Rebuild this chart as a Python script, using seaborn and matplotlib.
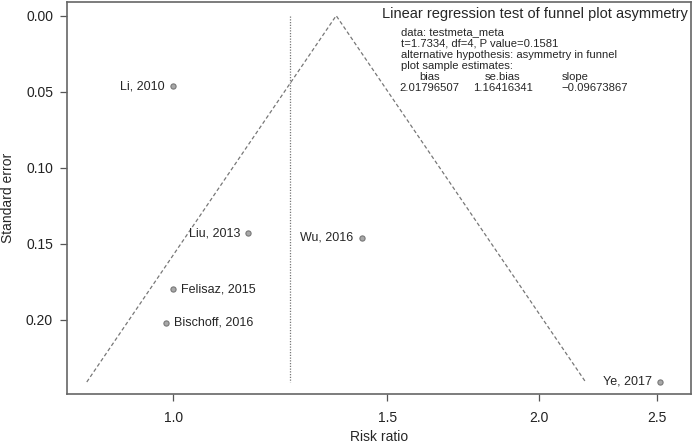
import numpy as np
import pandas as pd
import seaborn as sns
import matplotlib.pyplot as plt

# study data
studies = ["Li, 2010", "Liu, 2013", "Wu, 2016", "Felisaz, 2015", "Bischoff, 2016", "Ye, 2017"]
risk_ratio = [1.00, 1.153, 1.43, 1.00, 0.987, 2.515]
std_error = [0.0463, 0.143, 0.146, 0.180, 0.202, 0.241]
label_side = ["left", "left", "left", "right", "right", "left"]

fixed_rr = 1.362     # funnel apex
random_rr = 1.247    # dotted reference line
x_ticks = [1.0, 1.5, 2.0, 2.5]
y_ticks = [0.00, 0.05, 0.10, 0.15, 0.20]

test_title = "Linear regression test of funnel plot asymmetry"
test_lines = ["data: testmeta_meta",
              "t=1.7334, df=4, P value=0.1581",
              "alternative hypothesis: asymmetry in funnel",
              "plot sample estimates:"]
est_names = ["bias", "se.bias", "slope"]
est_values = ["2.01796507", "1.16416341", "\u22120.09673867"]

sns.set_style("white")
plt.rcParams['font.family'] = ['Liberation Sans', 'DejaVu Sans']

df = pd.DataFrame({"study": studies, "rr": risk_ratio, "se": std_error, "side": label_side})

fig = plt.figure(figsize=(6.99, 4.48), dpi=100)
ax = fig.add_axes([67 / 699, 1 - 394 / 448, 624 / 699, 392 / 448])

# funnel (pseudo 95% limits around fixed-effect estimate)
se_max = max(std_error)
funnel = pd.DataFrame({
    "rr": [np.exp(np.log(fixed_rr) - 1.96 * se_max), fixed_rr, np.exp(np.log(fixed_rr) + 1.96 * se_max)],
    "se": [se_max, 0.0, se_max],
})
ax.plot(funnel["rr"], funnel["se"], color="#777777", linestyle=(0, (3, 2)), linewidth=0.9)
ax.plot([random_rr, random_rr], [0.0, se_max], color="#777777", linestyle=(0, (1, 1.2)), linewidth=0.9)

sns.scatterplot(data=df, x="rr", y="se", ax=ax, color="#a8a8a8", edgecolor="#777777",
                linewidth=0.8, s=14, zorder=3, legend=False)

for _, row in df.iterrows():
    if row["side"] == "left":
        ax.annotate(row["study"], (row["rr"], row["se"]), xytext=(-6, 0), textcoords="offset points",
                    ha="right", va="center", fontsize=9)
    else:
        ax.annotate(row["study"], (row["rr"], row["se"]), xytext=(6, 0), textcoords="offset points",
                    ha="left", va="center", fontsize=9)

ax.set_xscale("log")
ax.set_xlim(0.818, 2.667)
ax.set_ylim(0.2489, -0.0090)
ax.set_xticks(x_ticks)
ax.set_xticklabels([f"{t:.1f}" for t in x_ticks])
ax.minorticks_off()
ax.set_yticks(y_ticks)
ax.set_yticklabels([f"{t:.2f}" for t in y_ticks])
ax.tick_params(bottom=True, left=True, direction="out", length=5, width=0.9, color="#555555",
               labelsize=10, pad=5, labelcolor="#222222")
ax.tick_params(axis="x", pad=7)
ax.set_xlabel("Risk ratio", fontsize=10, labelpad=4)
ax.set_ylabel("Standard error", fontsize=10, labelpad=8)
for sp in ax.spines.values():
    sp.set_color("#666666")
    sp.set_linewidth(1.2)

# regression test text block
fig.text(382 / 699, 1 - 14 / 448, test_title, fontsize=10.5, va="center", ha="left")
for i, line in enumerate(test_lines):
    fig.text(401 / 699, 1 - (32 + 11.3 * i) / 448, line, fontsize=8.1, va="center", ha="left")
for name, xp in zip(est_names, [419, 485, 562]):
    fig.text(xp / 699, 1 - 77 / 448, name, fontsize=8.1, va="center", ha="left")
for val, xp in zip(est_values, [399, 473, 561]):
    fig.text(xp / 699, 1 - 88 / 448, val, fontsize=8.1, va="center", ha="left")

fig.savefig("out.png", dpi=100)
